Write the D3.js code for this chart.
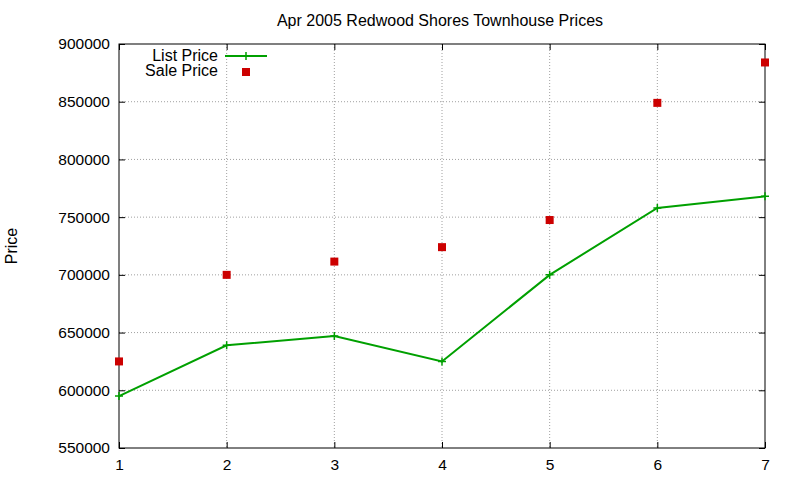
<!DOCTYPE html>
<html><head><meta charset="utf-8">
<script src="https://cdn.jsdelivr.net/npm/d3@7"></script>
<style>body{margin:0;background:#fff}svg{font-family:"Liberation Sans",Arial,sans-serif}</style>
</head><body><svg width="800" height="480"></svg>
<script>
const xValues=[1,2,3,4,5,6,7];
const listPrice=[595000,639000,647000,625000,700000,758000,768000];
const salePrice=[625000,700000,711500,724000,747500,849000,884000];
const yTicks=[550000,600000,650000,700000,750000,800000,850000,900000];
const svg=d3.select("svg");
const L=119,R=765,T=44,B=448;
const x=d3.scaleLinear().domain([1,7]).range([L,R]);
const y=d3.scaleLinear().domain([550000,900000]).range([B,T]);
const g=svg.append("g");
xValues.slice(1,-1).forEach(v=>g.append("line").attr("x1",x(v)).attr("x2",x(v)).attr("y1",T).attr("y2",B).attr("stroke","#888").attr("stroke-dasharray","1,2").attr("stroke-width",0.8));
yTicks.slice(1,-1).forEach(v=>g.append("line").attr("x1",L).attr("x2",R).attr("y1",y(v)).attr("y2",y(v)).attr("stroke","#888").attr("stroke-dasharray","1,2").attr("stroke-width",0.8));
svg.append("g").attr("transform",`translate(0,${B})`).call(d3.axisBottom(x).tickValues(xValues).tickFormat(d3.format("d")).tickSizeInner(-6).tickSizeOuter(0).tickPadding(11)).call(a=>{a.select(".domain").remove();a.selectAll("text").attr("font-size",15.5).attr("fill","#000");});
svg.append("g").attr("transform",`translate(${L},0)`).call(d3.axisLeft(y).tickValues(yTicks).tickFormat(d3.format("d")).tickSizeInner(-6).tickSizeOuter(0).tickPadding(9)).call(a=>{a.select(".domain").remove();a.selectAll("text").attr("font-size",15.5).attr("fill","#000");});
svg.append("g").attr("transform",`translate(${R},0)`).call(d3.axisRight(y).tickValues(yTicks).tickFormat("").tickSizeInner(-6).tickSizeOuter(0)).select(".domain").remove();
svg.append("g").attr("transform",`translate(0,${T})`).call(d3.axisTop(x).tickValues(xValues).tickFormat("").tickSizeInner(-6).tickSizeOuter(0)).select(".domain").remove();
svg.append("rect").attr("x",L).attr("y",T).attr("width",R-L).attr("height",B-T).attr("fill","none").attr("stroke","#000");
svg.append("text").attr("x",440).attr("y",26).attr("text-anchor","middle").attr("font-size",16).text("Apr 2005 Redwood Shores Townhouse Prices");
svg.append("text").attr("transform","translate(17,246) rotate(-90)").attr("text-anchor","middle").attr("font-size",16).text("Price");
const green="#00a000",red="#cc0000";
svg.append("path").datum(xValues.map((v,i)=>[v,listPrice[i]])).attr("d",d3.line().x(d=>x(d[0])).y(d=>y(d[1]))).attr("fill","none").attr("stroke",green).attr("stroke-width",2);
const plus=(px,py)=>{svg.append("path").attr("d",`M${px-4},${py}H${px+4}M${px},${py-4}V${py+4}`).attr("stroke",green).attr("stroke-width",1.5);};
xValues.forEach((v,i)=>plus(x(v),y(listPrice[i])));
xValues.forEach((v,i)=>svg.append("rect").attr("x",x(v)-4).attr("y",y(salePrice[i])-4).attr("width",8).attr("height",8).attr("fill",red));
svg.append("text").attr("x",218).attr("y",61).attr("text-anchor","end").attr("font-size",16).text("List Price");
svg.append("line").attr("x1",225).attr("x2",267).attr("y1",56).attr("y2",56).attr("stroke",green).attr("stroke-width",2);
plus(246,56);
svg.append("text").attr("x",218).attr("y",76).attr("text-anchor","end").attr("font-size",16).text("Sale Price");
svg.append("rect").attr("x",242).attr("y",68).attr("width",8).attr("height",8).attr("fill",red);
</script></body></html>
